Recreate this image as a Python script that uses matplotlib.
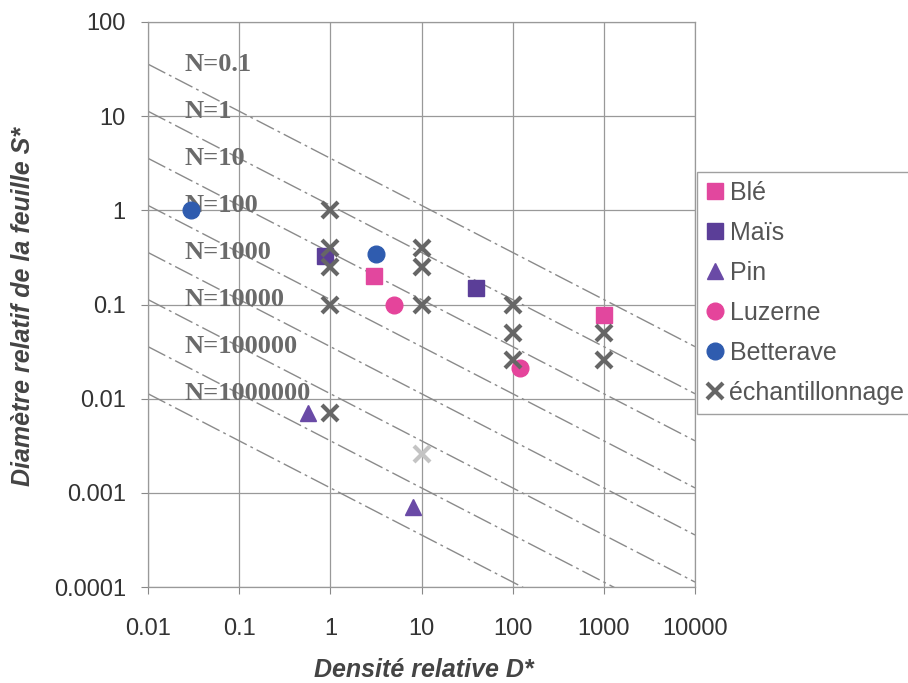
import numpy as np
import matplotlib
matplotlib.use('Agg')
import matplotlib.pyplot as plt
import matplotlib.ticker as mtick

# values (D* = relative density, S* = relative leaf diameter)
ble_d = [3, 1000]
ble_s = [0.2, 0.077]
mais_d = [0.87, 40]
mais_s = [0.33, 0.15]
pin_d = [0.57, 8]
pin_s = [0.007, 0.0007]
luzerne_d = [5, 120]
luzerne_s = [0.1, 0.021]
betterave_d = [0.03, 3.2]
betterave_s = [1.0, 0.34]
ech_d = [1, 1, 1, 1, 1, 10, 10, 10, 100, 100, 100, 1000, 1000]
ech_s = [1, 0.4, 0.25, 0.1, 0.007, 0.4, 0.25, 0.1, 0.1, 0.05, 0.026, 0.05, 0.026]
ech_faded_d = [10]
ech_faded_s = [0.0026]

n_values = [0.1, 1, 10, 100, 1000, 10000, 100000, 1000000]
n_labels = ['N=0.1', 'N=1', 'N=10', 'N=100', 'N=1000', 'N=10000', 'N=100000', 'N=1000000']

x_ticks = [0.01, 0.1, 1, 10, 100, 1000, 10000]
y_ticks = [0.0001, 0.001, 0.01, 0.1, 1, 10, 100]

plt.rcParams['font.family'] = ['Liberation Sans', 'DejaVu Sans']

fig = plt.figure(figsize=(9.08, 6.83), dpi=100)
ax = fig.add_axes([148 / 908, 96 / 683, 547 / 908, 565 / 683])


def iso_n(n, d):
    """Leaf diameter for a given N along density d."""
    return np.sqrt(4 / (np.pi * n * d))


d_line = np.logspace(-2, 4, 50)
for n, label in zip(n_values, n_labels):
    ax.plot(d_line, iso_n(n, d_line), color='#8a8a8a', lw=1.0,
            dashes=(14, 3, 2, 3), zorder=2)
    ax.text(0.025, iso_n(n, 0.01), label, family='Liberation Serif', weight='bold',
            fontsize=19, color='#6a6a6a', va='center', ha='left', zorder=3)

ms = 11
ax.plot(ble_d, ble_s, 's', ms=ms, color='#e2479e', ls='none', label='Blé', zorder=5)
ax.plot(mais_d, mais_s, 's', ms=ms, color='#5b3e98', ls='none', label='Maïs', zorder=5)
ax.plot(pin_d, pin_s, '^', ms=ms, color='#6a4aa6', ls='none', label='Pin', zorder=5)
ax.plot(luzerne_d, luzerne_s, 'o', ms=ms + 1, color='#e5449b', ls='none', label='Luzerne', zorder=5)
ax.plot(betterave_d, betterave_s, 'o', ms=ms + 1, color='#2f5caf', ls='none', label='Betterave', zorder=5)
ax.plot(ech_d, ech_s, 'x', ms=ms, mew=3, color='#666666', ls='none', label='échantillonnage', zorder=6)
ax.plot(ech_faded_d, ech_faded_s, 'x', ms=ms, mew=3, color='#c4c4c4', ls='none', zorder=6)

ax.set_xscale('log')
ax.set_yscale('log')
ax.set_xlim(0.01, 10000)
ax.set_ylim(0.0001, 100)

ax.xaxis.set_major_locator(mtick.FixedLocator(x_ticks))
ax.yaxis.set_major_locator(mtick.FixedLocator(y_ticks))
ax.xaxis.set_minor_locator(mtick.NullLocator())
ax.yaxis.set_minor_locator(mtick.NullLocator())
fmt = mtick.FuncFormatter(lambda v, pos: '{:g}'.format(v))
ax.xaxis.set_major_formatter(fmt)
ax.yaxis.set_major_formatter(fmt)

ax.tick_params(axis='x', labelsize=17, colors='#888888', labelcolor='#333333',
               length=5, pad=17)
ax.tick_params(axis='y', labelsize=17, colors='#888888', labelcolor='#333333',
               length=5, pad=11)

ax.grid(True, color='#999999', lw=0.9)
for side in ax.spines.values():
    side.set_color('#999999')
    side.set_linewidth(0.9)

fig.text(424 / 908, 1 - 670 / 683, 'Densité relative D*', fontsize=18,
         weight='bold', style='italic', color='#444444', ha='center', va='center')
fig.text(23 / 908, 1 - 306 / 683, 'Diamètre relatif de la feuille S*', fontsize=18,
         weight='bold', style='italic', color='#444444', ha='center', va='center',
         rotation=90)

leg = fig.legend(loc='upper left', bbox_to_anchor=(697 / 908, 1 - 172 / 683),
                 fontsize=18, frameon=True, fancybox=False, edgecolor='#888888',
                 handlelength=0.7, handletextpad=0.25, labelspacing=0.64,
                 borderpad=0.35, borderaxespad=0, markerscale=1.0)
for t in leg.get_texts():
    t.set_color('#555555')

plt.savefig('out.png', dpi=100)
plt.close()
